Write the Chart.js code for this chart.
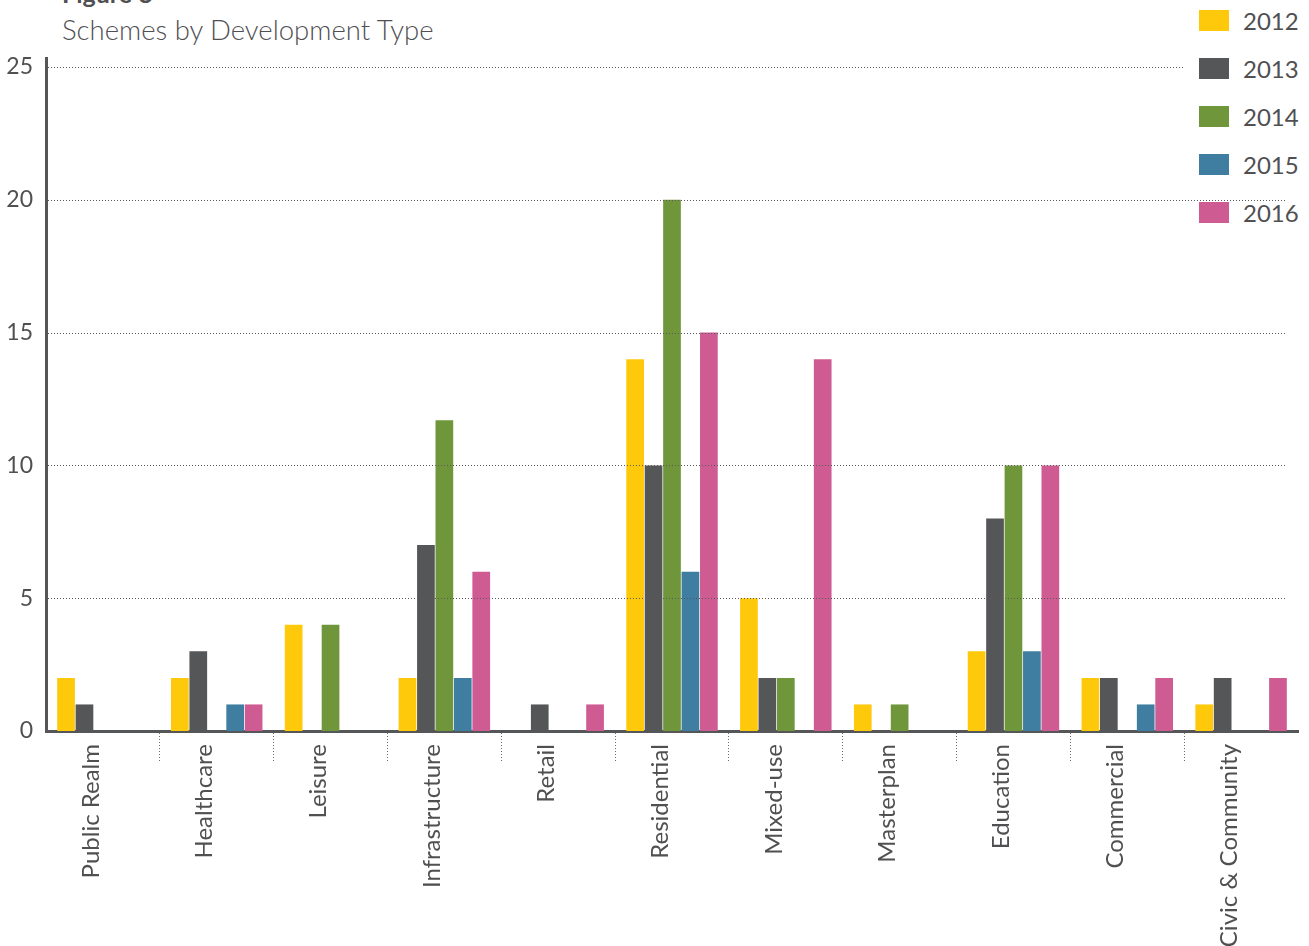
<!DOCTYPE html>
<html>
<head>
<meta charset="utf-8">
<script src="https://cdn.jsdelivr.net/npm/chart.js@4"></script>
<style>
  html, body { margin: 0; padding: 0; background: #fff; }
  #wrap { position: relative; width: 1309px; height: 946px; overflow: hidden; font-family: Lato, sans-serif; color: #505052; }
  #fig { position: absolute; left: 62px; top: -22px; font-size: 25px; font-weight: 700; }
  #sub { position: absolute; left: 62px; top: 13px; font-size: 27.5px; font-weight: 300; }
  #legend { position: absolute; left: 1199px; top: 10px; z-index: 0; }
  .item { display: flex; align-items: center; height: 21px; margin-bottom: 27px; }
  .sw { width: 30px; height: 21px; margin-right: 14px; }
  .lab { font-size: 24px; font-weight: 400; line-height: 21px; }
  canvas { position: absolute; left: 0; top: 0; z-index: 1; }
</style>
</head>
<body>
<div id="wrap">
  <div id="fig">Figure 8</div>
  <div id="sub">Schemes by Development Type</div>
  <div id="legend"></div>
  <canvas id="schemes" width="1309" height="946"></canvas>
</div>
<script>
const categories = ['Public Realm', 'Healthcare', 'Leisure', 'Infrastructure', 'Retail', 'Residential',
  'Mixed-use', 'Masterplan', 'Education', 'Commercial', 'Civic & Community'];
const years = ['2012', '2013', '2014', '2015', '2016'];
const values2012 = [2, 2, 4, 2, 0, 14, 5, 1, 3, 2, 1];
const values2013 = [1, 3, 0, 7, 1, 10, 2, 0, 8, 2, 2];
const values2014 = [0, 0, 4, 11.7, 0, 20, 2, 1, 10, 0, 0];
const values2015 = [0, 1, 0, 2, 0, 6, 0, 0, 3, 1, 0];
const values2016 = [0, 1, 0, 6, 1, 15, 14, 0, 10, 2, 2];
const yTicks = [0, 5, 10, 15, 20, 25];

const colours = ['#FEC80B', '#555658', '#6F963A', '#3F7EA0', '#CE5B91'];
const seriesValues = [values2012, values2013, values2014, values2015, values2016];
const textColour = '#505052';

// legenda em HTML, atrás do canvas (as linhas pontilhadas passam por cima)
const legendBox = document.getElementById('legend');
years.forEach((y, i) => {
  const row = document.createElement('div');
  row.className = 'item';
  row.innerHTML = `<div class="sw" style="background:${colours[i]}"></div><div class="lab">${y}</div>`;
  legendBox.appendChild(row);
});

// linhas de grade pontilhadas desenhadas depois das barras
const dottedGrid = {
  id: 'dottedGrid',
  afterDatasetsDraw(chart) {
    const { ctx, chartArea, scales } = chart;
    const legendLeft = legendBox.offsetLeft;
    ctx.save();
    ctx.strokeStyle = '#5a5a5a';
    ctx.lineWidth = 1;
    ctx.setLineDash([1, 2]);
    yTicks.forEach(v => {
      if (v === 0) return;
      const y = Math.round(scales.y.getPixelForValue(v)) + 0.5;
      const end = v === yTicks[yTicks.length - 1] ? legendLeft - 16 : chartArea.right - 13;
      ctx.beginPath();
      ctx.moveTo(chartArea.left + 2, y);
      ctx.lineTo(end, y);
      ctx.stroke();
    });
    ctx.restore();
  }
};

new Chart(document.getElementById('schemes').getContext('2d'), {
  type: 'bar',
  data: {
    labels: categories,
    datasets: years.map((y, i) => ({
      label: y,
      data: seriesValues[i],
      backgroundColor: colours[i],
      borderWidth: 0,
      barPercentage: 0.96,
      categoryPercentage: 0.81
    }))
  },
  options: {
    responsive: false,
    animation: false,
    layout: { padding: { top: 58, right: 11, left: 0, bottom: 0 } },
    plugins: {
      legend: { display: false },
      title: { display: false },
      tooltip: { enabled: false }
    },
    scales: {
      x: {
        offset: true,
        border: { color: '#555658', width: 3 },
        grid: {
          offset: true,
          drawOnChartArea: false,
          drawTicks: true,
          tickLength: 30,
          tickWidth: 1,
          tickBorderDash: [1, 2],
          tickColor: ctx => (ctx.type !== 'tick' || ctx.index === 0) ? 'rgba(0,0,0,0)' : '#6a6a6a'
        },
        ticks: {
          minRotation: 90,
          maxRotation: 90,
          autoSkip: false,
          padding: -17,
          labelOffset: -12,
          color: textColour,
          font: { family: 'Lato', size: 24, weight: 400 }
        },
        afterFit(scale) { scale.height = 215; }
      },
      y: {
        min: 0,
        max: 25.34,
        border: { color: '#555658', width: 3 },
        grid: { display: false },
        ticks: {
          stepSize: 5,
          includeBounds: false,
          padding: 5,
          color: textColour,
          font: { family: 'Lato', size: 23, weight: 400 }
        },
        afterFit(scale) { scale.width = 46; }
      }
    }
  },
  plugins: [dottedGrid]
});
</script>
</body>
</html>
